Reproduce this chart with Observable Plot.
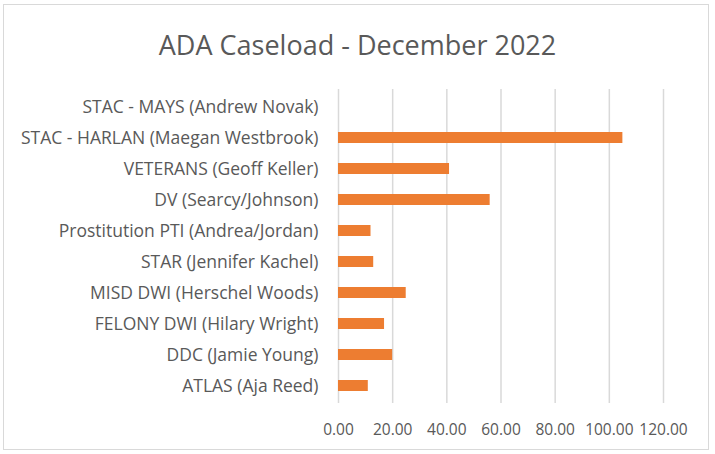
<!DOCTYPE html>
<html>
<head>
<meta charset="utf-8">
<script src="https://cdn.jsdelivr.net/npm/d3@7"></script>
<script src="https://cdn.jsdelivr.net/npm/@observablehq/plot@0.6"></script>
<style>
  html, body { margin: 0; padding: 0; background: #fff; }
  #wrap { position: relative; width: 715px; height: 454px; overflow: hidden; font-family: "Open Sans", sans-serif; }
  #frame { position: absolute; left: 3px; top: 4px; width: 706px; height: 446px; border: 1.5px solid #d9d9d9; box-sizing: border-box; }
  #title { position: absolute; left: 0; top: 26px; width: 715px; text-align: center; font-size: 27px; color: #595959; line-height: 38px; }
  #chart { position: absolute; left: 0; top: 78px; }
</style>
</head>
<body>
<div id="wrap">
  <div id="frame"></div>
  <div id="title">ADA Caseload - December 2022</div>
  <div id="chart"></div>
</div>
<script>
const programs = [
  "STAC - MAYS (Andrew Novak)",
  "STAC - HARLAN (Maegan Westbrook)",
  "VETERANS (Geoff Keller)",
  "DV (Searcy/Johnson)",
  "Prostitution PTI (Andrea/Jordan)",
  "STAR (Jennifer Kachel)",
  "MISD DWI (Herschel Woods)",
  "FELONY DWI (Hilary Wright)",
  "DDC (Jamie Young)",
  "ATLAS (Aja Reed)"
];
const caseload = [0, 105, 41, 56, 12, 13, 25, 17, 20, 11];
const xTicks = [0, 20, 40, 60, 80, 100, 120];

const data = programs.map((p, i) => ({program: p, value: caseload[i]}));

const plot = Plot.plot({
  width: 715,
  height: 370,
  marginLeft: 338,
  marginRight: 52,
  marginTop: 11,
  marginBottom: 45,
  style: {fontFamily: "Open Sans, sans-serif", color: "#595959", background: "transparent"},
  x: {domain: [0, 120], ticks: xTicks},
  y: {domain: programs, paddingInner: 0.65, paddingOuter: 0.325, label: null},
  marks: [
    Plot.gridX(xTicks, {stroke: "#d9d9d9", strokeOpacity: 1, strokeWidth: 1.5}),
    Plot.barX(data, {x: "value", y: "program", fill: "#ED7D31"}),
    Plot.axisX({ticks: xTicks, tickSize: 0, tickPadding: 20, tickFormat: d => d.toFixed(2), label: null, fontSize: 15.5, fill: "#595959"}),
    Plot.axisY({tickSize: 0, tickPadding: 20, label: null, fontSize: 17.5, fill: "#595959"})
  ]
});
document.getElementById("chart").appendChild(plot);
</script>
</body>
</html>
